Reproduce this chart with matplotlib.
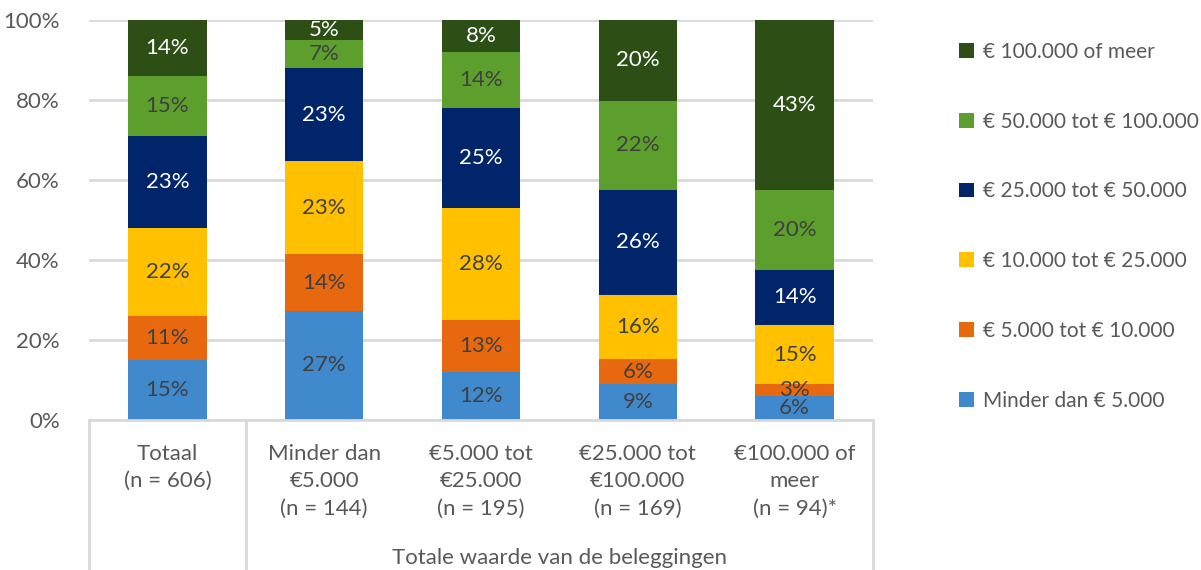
import matplotlib
matplotlib.use("Agg")
import matplotlib.pyplot as plt
from matplotlib.transforms import blended_transform_factory
from matplotlib.patches import Patch

plt.rcParams['font.family'] = ['Lato', 'DejaVu Sans']

categories = ["Totaal\n(n = 606)", "Minder dan\n€5.000\n(n = 144)", "€5.000 tot\n€25.000\n(n = 195)",
              "€25.000 tot\n€100.000\n(n = 169)", "€100.000 of\nmeer\n(n = 94)*"]
series_names = ["Minder dan € 5.000", "€ 5.000 tot € 10.000", "€ 10.000 tot € 25.000",
                "€ 25.000 tot € 50.000", "€ 50.000 tot € 100.000", "€ 100.000 of meer"]
minder_5000 = [15, 27, 12, 9, 6]
t5000_10000 = [11, 14, 13, 6, 3]
t10000_25000 = [22, 23, 28, 16, 15]
t25000_50000 = [23, 23, 25, 26, 14]
t50000_100000 = [15, 7, 14, 22, 20]
meer_100000 = [14, 5, 8, 20, 43]
series = [minder_5000, t5000_10000, t10000_25000, t25000_50000, t50000_100000, meer_100000]
colors = ["#4089CC", "#E8680F", "#FFC000", "#00256B", "#5C9F2D", "#2D4F16"]
label_colors = ["#404040", "#404040", "#404040", "white", "#404040", "white"]
group_label = "Totale waarde van de beleggingen"

W, H = 1201, 570
fig = plt.figure(figsize=(W / 100, H / 100), dpi=100)
ax = fig.add_axes([89 / W, (H - 420) / H, (873 - 89) / W, 400 / H])

x = list(range(len(categories)))
bottoms = [0.0] * len(categories)
for vals, col, lc in zip(series, colors, label_colors):
    tot = []
    for i in x:
        tot.append(sum(s[i] for s in series))
    fr = [v / t for v, t in zip(vals, tot)]
    ax.bar(x, fr, bottom=bottoms, width=0.5, color=col, zorder=3)
    for i in x:
        ax.text(i, bottoms[i] + fr[i] / 2, f"{vals[i]}%", ha='center', va='center',
                color=lc, fontsize=16, zorder=4)
    bottoms = [b + f for b, f in zip(bottoms, fr)]

ax.set_xlim(-0.5, 4.5)
ax.set_ylim(0, 1)
ax.set_yticks([0, 0.2, 0.4, 0.6, 0.8, 1.0])
ax.set_yticklabels(["0%", "20%", "40%", "60%", "80%", "100%"], fontsize=16, color="#595959")
ax.tick_params(axis='y', length=0, pad=21)
ax.set_xticks([])
for s in ax.spines.values():
    s.set_visible(False)
ax.grid(axis='y', color="#D9D9D9", linewidth=2, zorder=0)

trans = blended_transform_factory(ax.transData, ax.transAxes)
linecol = "#D9D9D9"
ax.plot([-0.5, 4.5], [0, 0], color=linecol, lw=2, transform=trans, clip_on=False, zorder=5)
for xv in [-0.5, 0.5, 4.5]:
    ax.plot([xv, xv], [0, -0.4], color=linecol, lw=2, transform=trans, clip_on=False)

for i, c in enumerate(categories):
    ax.text(i, -0.06, c, transform=trans, ha='center', va='top', fontsize=16,
            color="#595959", linespacing=1.45)
ax.text(2.5, -0.345, group_label, transform=trans, ha='center', va='center',
        fontsize=16, color="#595959")

handles = [Patch(facecolor=c, edgecolor='none') for c in colors][::-1]
leg = fig.legend(handles, series_names[::-1], loc='upper left',
                 bbox_to_anchor=(940 / W, 1 - 23 / H), frameon=False,
                 fontsize=15, labelspacing=2.39, handlelength=0.72, handleheight=0.72,
                 handletextpad=0.45, labelcolor="#595959")

fig.savefig("out.png", dpi=100)
